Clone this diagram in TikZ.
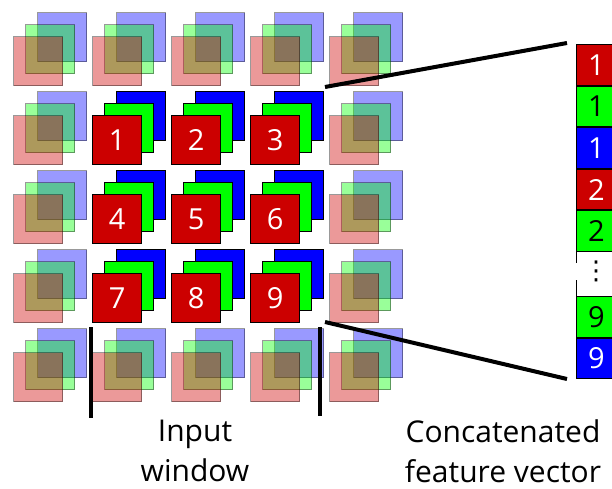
\documentclass[tikz,border=0pt]{standalone}
\usepackage{fontspec}
\setmainfont{Open Sans}
\newfontfamily\dejavu{DejaVu Sans}
\definecolor{cred}{RGB}{204,0,0}
\definecolor{cgreen}{RGB}{0,255,0}
\definecolor{cblue}{RGB}{0,0,255}
\begin{document}
\begin{tikzpicture}[x=1pt,y=-1pt,
  sq/.style={draw=black, line width=1.3pt, minimum size=49pt, inner sep=0pt,
    anchor=north west, font=\fontsize{29}{35}\selectfont},
  fsq/.style={sq, draw opacity=0.4, fill opacity=0.4},
  vcell/.style={draw=black, line width=1pt, minimum width=40pt, minimum height=40.6pt,
    inner sep=0pt, anchor=north west, font=\fontsize{29}{35}\selectfont},
  thick line/.style={line width=4pt},
  label text/.style={font=\fontsize{30}{40}\selectfont, align=center, anchor=base, inner sep=0pt}
]
\useasboundingbox (0,0) rectangle (612,488);
\clip (0,0) rectangle (612,488);
% faded cells (outer ring)
\foreach \i/\j in {0/0,1/0,2/0,3/0,4/0,0/1,4/1,0/2,4/2,0/3,4/3,0/4,1/4,2/4,3/4,4/4}{
  \node[fsq, fill=cblue]  (b\i\j) at ({37+79*\i},{12+79*\j}) {};
  \node[fsq, fill=cgreen] (g\i\j) at ({25+79*\i},{24+79*\j}) {};
  \node[fsq, fill=cred]   (r\i\j) at ({13+79*\i},{36+79*\j}) {};
}
% active cells (input window)
\foreach \i/\j/\n in {1/1/1,2/1/2,3/1/3,1/2/4,2/2/5,3/2/6,1/3/7,2/3/8,3/3/9}{
  \node[sq, fill=cblue]  (b\i\j) at ({37+79*\i},{12+79*\j}) {};
  \node[sq, fill=cgreen] (g\i\j) at ({25+79*\i},{24+79*\j}) {};
  \node[sq, fill=cred, text=white] (r\i\j) at ({13+79*\i},{36+79*\j}) {\n};
}
% feature vector
\node[vcell, fill=cred, text=white]   (v1) at (576,44) {1};
\node[vcell, fill=cgreen, text=black] (v2) at (v1.south west) {1};
\node[vcell, fill=cblue, text=white]  (v3) at (v2.south west) {1};
\node[vcell, fill=cred, text=white]   (v4) at (v3.south west) {2};
\node[vcell, fill=cgreen, text=black] (v5) at (v4.south west) {2};
\node[vcell, fill=cgreen, text=black] (v8) at (576,296) {9};
\node[vcell, fill=cblue, text=white]  (v9) at (v8.south west) {9};
\node[inner sep=0pt, font=\dejavu\fontsize{26}{30}\selectfont] (dots) at (596,271) {⋮};
\coordinate (ga) at (v5.south west);
\coordinate (gb) at (576,263);
\coordinate (gc) at (576,280);
\coordinate (gd) at (v8.north west);
\draw[line width=1pt] (ga) -- (gb) (gc) -- (gd);
% connecting lines
\coordinate (wtr) at (325,87);
\coordinate (wbr) at (325,322);
\coordinate (vt) at (567,43);
\coordinate (vb) at (567,379);
\draw[thick line] (wtr) -- (vt);
\draw[thick line] (wbr) -- (vb);
% window markers
\coordinate (l1) at (91,327);
\coordinate (l2) at (91,418);
\coordinate (r1) at (320,327);
\coordinate (r2) at (320,416);
\draw[thick line] (l1) -- (l2);
\draw[thick line] (r1) -- (r2);
% labels
\node[label text] (inlab) at (195,481) {Input\\window};
\node[label text] (felab) at (503,482) {Concatenated\\feature vector};
\end{tikzpicture}
\end{document}
